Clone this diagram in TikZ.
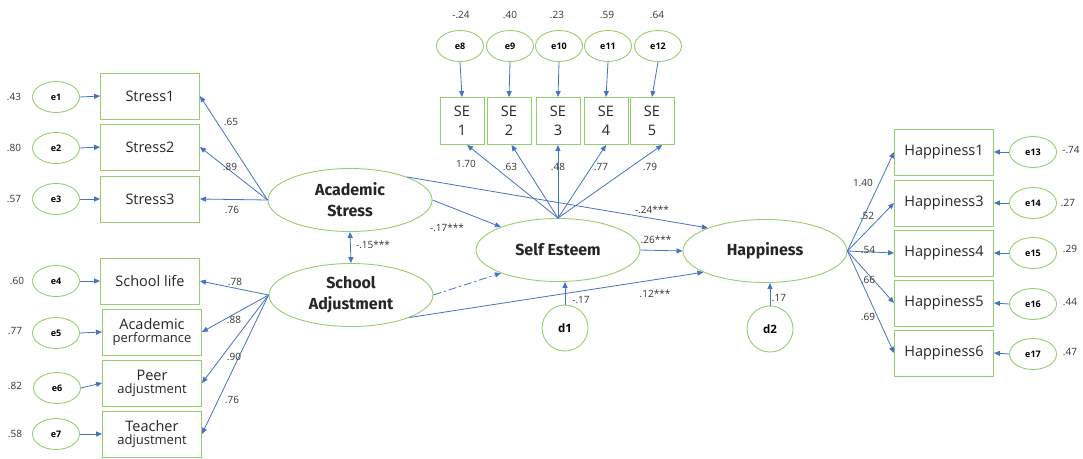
\documentclass[tikz,border=0pt]{standalone}
\usepackage{fontspec}
\setmainfont{Open Sans}
\newfontfamily\latfont{Fira Sans}
\usetikzlibrary{arrows.meta,shapes.geometric}
\definecolor{grn}{RGB}{150,205,110}
\definecolor{blu}{RGB}{68,114,196}
\begin{document}
\begin{tikzpicture}[x=1pt,y=-1pt,
 obs/.style={draw=grn,line width=0.9pt,rectangle,minimum width=99pt,minimum height=46pt,inner sep=0pt,align=center,font=\fontsize{14.5}{16}\selectfont,text=black!85},
 seb/.style={obs,minimum width=44pt,minimum height=47pt,font=\fontsize{14.5}{19}\selectfont},
 sub/.style={},
 lat/.style={draw=grn,line width=0.9pt,ellipse,minimum width=164pt,minimum height=63pt,inner sep=0pt,align=center,font=\latfont\bfseries\fontsize{16}{21}\selectfont,text=black!85},
 err/.style={draw=grn,line width=0.9pt,ellipse,minimum width=47pt,minimum height=31pt,inner sep=0pt,font=\bfseries\fontsize{9}{10}\selectfont},
 dist/.style={draw=grn,line width=0.9pt,circle,minimum size=46pt,inner sep=0pt,font=\bfseries\fontsize{11.5}{12}\selectfont},
 arr/.style={draw=blu,line width=0.8pt,-{Triangle[length=6pt,width=5pt]}},
 num/.style={font=\fontsize{10}{11}\selectfont,inner sep=0pt,text=black!80},
]
\useasboundingbox (0,0) rectangle (1083,458);
% latent variables
\node[lat] (as) at (350,200) {Academic\\Stress};
\node[lat] (sa) at (351,295) {School\\Adjustment};
\node[lat] (se) at (558,250) {Self Esteem};
\node[lat] (hap) at (765,251) {Happiness};
\node[dist] (d1) at (565,328) {d1};
\node[dist] (d2) at (770,329) {d2};
% stress indicators
\node[obs] (s1) at (150,96) {Stress1};
\node[obs] (s2) at (150,147) {Stress2};
\node[obs] (s3) at (150,199) {Stress3};
\node[err] (e1) at (56,97) {e1};
\node[err] (e2) at (56,148) {e2};
\node[err] (e3) at (56,199) {e3};
% school adjustment indicators
\node[obs] (a1) at (150,281) {School life};
\node[obs] (a2) at (152,332) {Academic\\[-3pt]{\fontsize{13}{14}\selectfont performance}};
\node[obs] (a3) at (152,383) {Peer\\[-3pt]{\fontsize{13}{14}\selectfont adjustment}};
\node[obs] (a4) at (152,434) {Teacher\\[-3pt]{\fontsize{13}{14}\selectfont adjustment}};
\node[err] (e4) at (56,281) {e4};
\node[err] (e5) at (56,333) {e5};
\node[err] (e6) at (57,388) {e6};
\node[err] (e7) at (56,434) {e7};
% self esteem indicators
\node[seb] (se1) at (462,121) {SE\\1};
\node[seb] (se2) at (509,121) {SE\\2};
\node[seb] (se3) at (558,121) {SE\\3};
\node[seb] (se4) at (606,121) {SE\\4};
\node[seb] (se5) at (652,121) {SE\\5};
\node[err] (e8) at (460,46) {e8};
\node[err] (e9) at (510,46) {e9};
\node[err] (e10) at (559,46) {e10};
\node[err] (e11) at (608,46) {e11};
\node[err] (e12) at (658,46) {e12};
% happiness indicators
\node[obs] (h1) at (944,152) {Happiness1};
\node[obs] (h3) at (944,203) {Happiness3};
\node[obs] (h4) at (944,253) {Happiness4};
\node[obs] (h5) at (944,303) {Happiness5};
\node[obs] (h6) at (944,353) {Happiness6};
\node[err] (e13) at (1033,152) {e13};
\node[err] (e14) at (1033,203) {e14};
\node[err] (e15) at (1033,253) {e15};
\node[err] (e16) at (1033,304) {e16};
\node[err] (e17) at (1033,354) {e17};
% error arrows
\foreach \e/\o in {e1/s1,e2/s2,e3/s3,e4/a1,e5/a2,e6/a3,e7/a4}
  \draw[arr] (\e.east) -- (\o.west);
\foreach \e/\o in {e8/se1,e9/se2,e10/se3,e11/se4,e12/se5}
  \draw[arr] (\e.south) -- (\o.north);
\foreach \e/\o in {e13/h1,e14/h3,e15/h4,e16/h5,e17/h6}
  \draw[arr] (\e.west) -- (\o.east);
% loadings
\foreach \o in {s1,s2,s3} \draw[arr] (as.west) -- (\o.east);
\foreach \o in {a1,a2,a3,a4} \draw[arr] (sa.west) -- (\o.east);
\draw[arr] (se.north) -- (se1.-78);
\draw[arr] (se.north) -- (se2.-84);
\draw[arr] (se.north) -- (se3.south);
\draw[arr] (se.north) -- (se4.south);
\draw[arr] (se.north) -- (se5.-67);
\foreach \o in {h1,h3,h4,h5,h6} \draw[arr] (hap.east) -- (\o.west);
% structural paths
\draw[arr] (as.22) -- (hap.158);
\draw[arr] (as.east) -- (se.158);
\draw[arr,dash pattern=on 8pt off 3pt on 2pt off 3pt] (sa.east) -- (se.202);
\draw[arr] (sa.-21) -- (hap.199);
\draw[arr] (se.east) -- (hap.west);
\draw[draw=blu,line width=0.8pt,{Triangle[length=6pt,width=5pt]}-{Triangle[length=6pt,width=5pt]}] (as.south) -- (sa.north);
\draw[arr] (d1.north) -- (d1.north |- se.south);
\draw[arr] (d2.north) -- (d2.north |- hap.south);
% number labels
\node[num] (n1) at (14,97) {.43};
\node[num] (n2) at (14,148) {.80};
\node[num] (n3) at (14,199) {.57};
\node[num] (n4) at (17,281) {.60};
\node[num] (n5) at (15,331) {.77};
\node[num] (n6) at (15,386) {.82};
\node[num] (n7) at (15,434) {.58};
\node[num] (l1) at (231,122) {.65};
\node[num] (l2) at (230,167) {.89};
\node[num] (l3) at (232,210) {.76};
\node[num] (l4) at (235,282) {.78};
\node[num] (l5) at (234,320) {.88};
\node[num] (l6) at (234,357) {.90};
\node[num] (l7) at (232,400) {.76};
\node[num] (t1) at (461,15) {-.24};
\node[num] (t2) at (510,15) {.40};
\node[num] (t3) at (557,15) {.23};
\node[num] (t4) at (607,15) {.59};
\node[num] (t5) at (657,15) {.64};
\node[num] (m1) at (466,164) {1.70};
\node[num] (m2) at (510,167) {.63};
\node[num] (m3) at (558,167) {.48};
\node[num] (m4) at (601,167) {.77};
\node[num] (m5) at (650,167) {.79};
\node[num] (p1) at (373,245) {-.15***};
\node[num] (p2) at (447,228) {-.17***};
\node[num] (p3) at (652,210) {-.24***};
\node[num] (p4) at (656,240) {.26***};
\node[num] (p5) at (655,294) {.12***};
\node[num] (p6) at (581,300) {-.17};
\node[num] (p7) at (779,298) {.17};
\node[num] (r1) at (863,183) {1.40};
\node[num] (r2) at (867,216) {.52};
\node[num] (r3) at (868,250) {.54};
\node[num] (r4) at (868,280) {.66};
\node[num] (r5) at (868,317) {.69};
\node[num] (q1) at (1071,150) {-.74};
\node[num] (q2) at (1068,203) {.27};
\node[num] (q3) at (1070,249) {.29};
\node[num] (q4) at (1070,302) {.44};
\node[num] (q5) at (1070,352) {.47};
\end{tikzpicture}
\end{document}
